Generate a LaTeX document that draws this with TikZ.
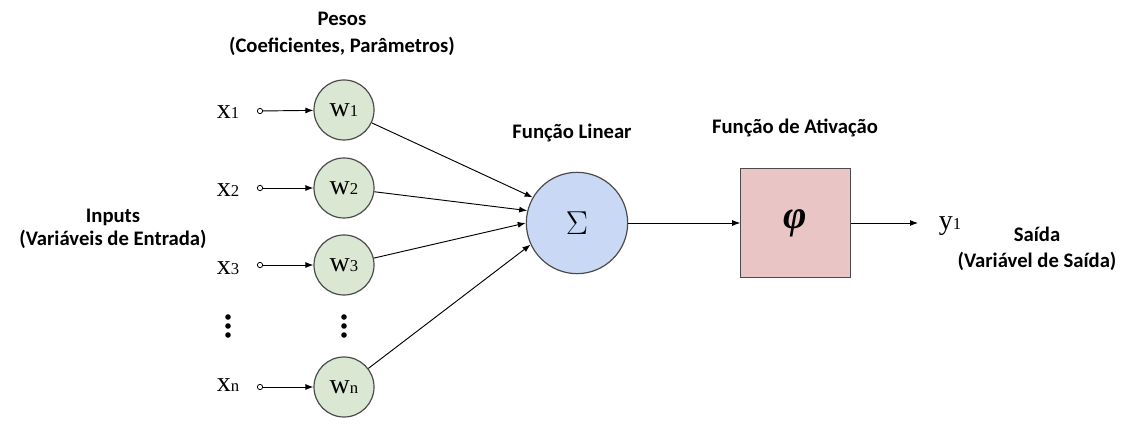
\documentclass[tikz,border=0pt]{standalone}
\usepackage{fontspec}
\setmainfont{Liberation Serif}
\newfontfamily\lab{Carlito}
\usetikzlibrary{arrows.meta}
\definecolor{wfill}{RGB}{218,232,211}
\definecolor{sfill}{RGB}{201,216,244}
\definecolor{bfill}{RGB}{234,197,197}
\definecolor{edge}{RGB}{75,75,75}
\tikzset{
  wnode/.style={circle,draw=edge,line width=0.9pt,fill=wfill,minimum size=45pt,inner sep=0pt,font=\fontsize{21}{21}\selectfont},
  snode/.style={circle,draw=edge,line width=0.9pt,fill=sfill,minimum size=76pt,inner sep=0pt,font=\fontsize{34}{34}\selectfont},
  bnode/.style={rectangle,draw=edge,line width=0.9pt,fill=bfill,minimum width=82pt,minimum height=82pt,inner sep=0pt,font=\bfseries\itshape\fontsize{30}{30}\selectfont},
  xlab/.style={inner sep=0pt,font=\fontsize{21}{21}\selectfont},
  opendot/.style={circle,draw=black,line width=0.6pt,fill=white,minimum size=4pt,inner sep=0pt},
  vdot/.style={circle,fill=black,minimum size=4.2pt,inner sep=0pt},
  title/.style={align=center,font=\lab\bfseries\fontsize{15.5}{20}\selectfont,inner sep=0pt},
  conn/.style={line width=0.7pt,-{Latex[length=6pt,width=4.5pt]}},
}
\newcommand{\sub}[1]{{\fontsize{12.5}{12.5}\selectfont #1}}
\begin{document}
\begin{tikzpicture}[x=0.75pt,y=-0.75pt]
\useasboundingbox (0,0) rectangle (1121,441);
% titles
\node[title] (tp) at (342,34) {Pesos\\(Coeficientes, Parâmetros)};
\node[title,font=\lab\bfseries\fontsize{15.5}{17.5}\selectfont] (ti) at (113,229) {Inputs\\(Variáveis de Entrada)};
\node[title] (tl) at (572,133) {Função Linear};
\node[title] (ta) at (795,128) {Função de Ativação};
\node[title,font=\lab\bfseries\fontsize{15.5}{19.5}\selectfont] (ts) at (1037,249) {Saída\\(Variável de Saída)};
% inputs
\node[xlab] (x1) at (228,112) {x\sub{1}};
\node[xlab] (x2) at (228,190) {x\sub{2}};
\node[xlab] (x3) at (228,268) {x\sub{3}};
\node[xlab] (xn) at (228,385) {x\sub{n}};
\node[opendot] (o1) at (260,111) {};
\node[opendot] (o2) at (260,188) {};
\node[opendot] (o3) at (260,265) {};
\node[opendot] (on) at (260,387) {};
% weights
\node[wnode] (w1) at (344,110) {w\sub{1}};
\node[wnode] (w2) at (344,188) {w\sub{2}};
\node[wnode] (w3) at (344,265) {w\sub{3}};
\node[wnode] (wn) at (344,387) {w\sub{n}};
% dots
\foreach \yy [count=\i] in {317,326,335}{
  \node[vdot] (da\i) at (228,\yy) {};
  \node[vdot] (db\i) at (344,\yy) {};
}
% sum and activation
\node[snode] (sig) at (577,223) {$\Sigma$};
\node[bnode] (act) at (795.5,223) {φ};
\node[xlab] (y1) at (950,226) {y\sub{1}};
\coordinate (yend) at (918,223);
% connectors
\draw[conn] (o1) -- (w1);
\draw[conn] (o2) -- (w2);
\draw[conn] (o3) -- (w3);
\draw[conn] (on) -- (wn);
\draw[conn] (w1) -- (sig.150);
\draw[conn] (w2) -- (sig.166);
\draw[conn] (w3) -- (sig.180);
\draw[conn] (wn) -- (sig.205);
\draw[conn] (sig) -- (act);
\draw[conn] (act) -- (yend);
\end{tikzpicture}
\end{document}
